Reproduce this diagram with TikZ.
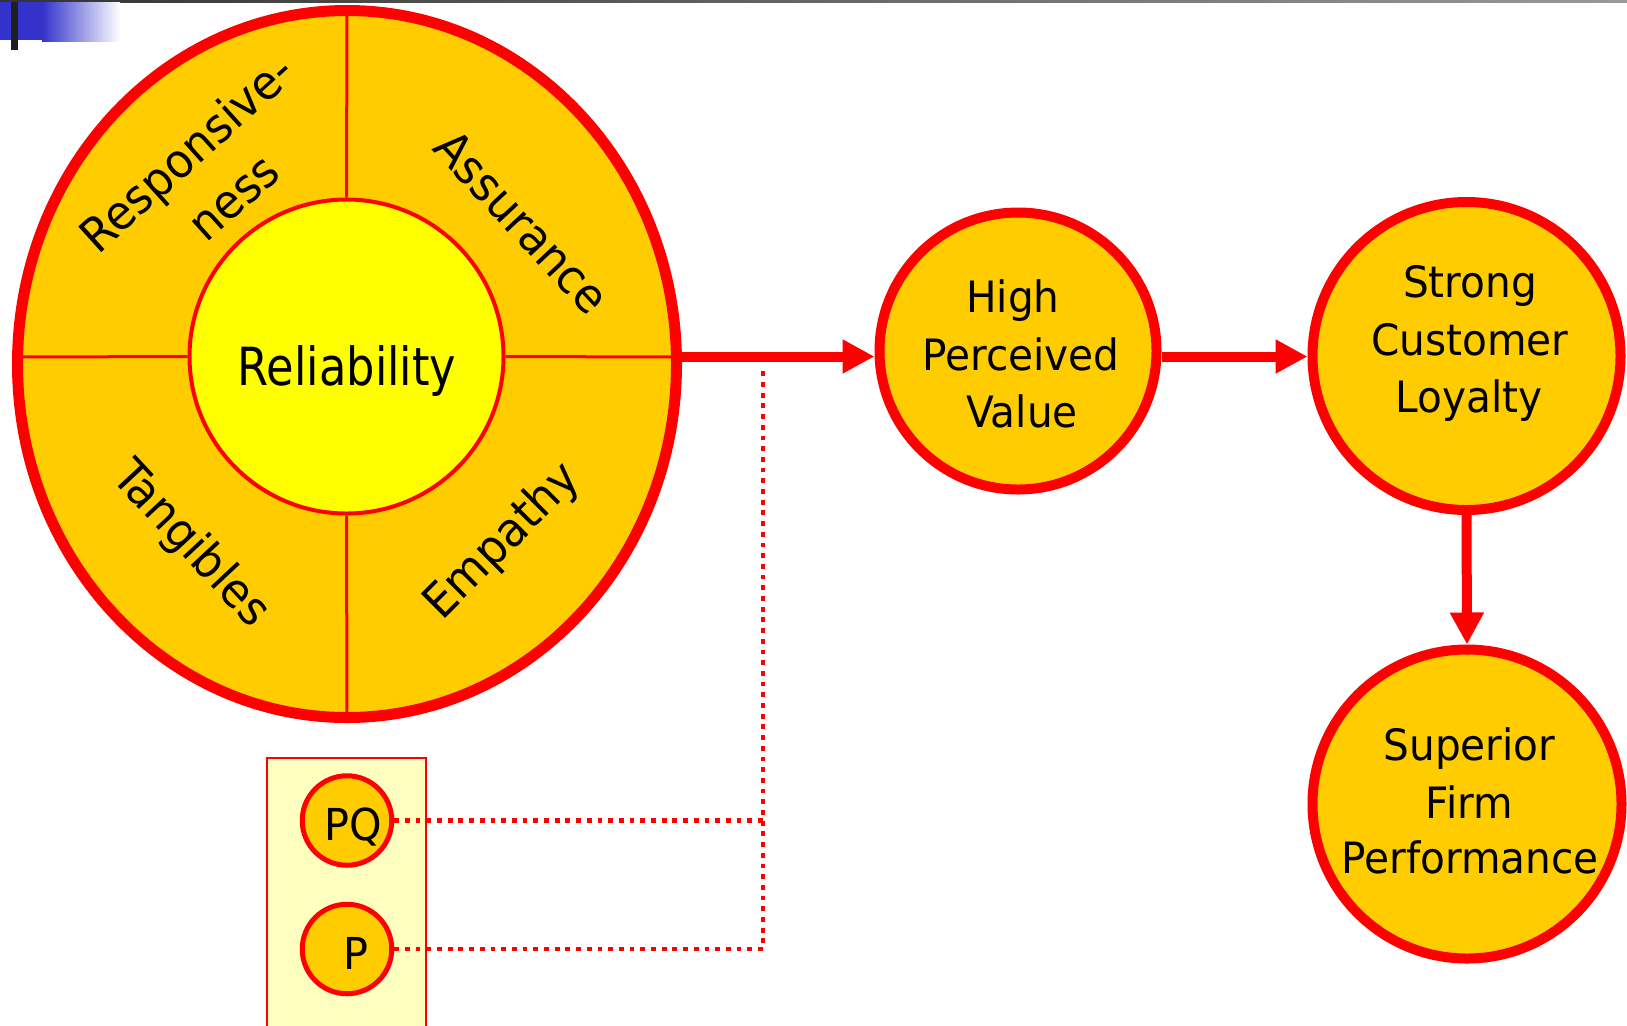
\documentclass[tikz,border=0pt]{standalone}
\usepackage{fontspec}
\setmainfont{DejaVu Sans}
\newfontfamily\tahomaish[FakeStretch=0.94]{DejaVu Sans}
\newfontfamily\relfont[FakeStretch=0.85]{DejaVu Sans}
\usetikzlibrary{arrows.meta,shapes.geometric}
\definecolor{ringfill}{HTML}{FFCC00}
\definecolor{corefill}{HTML}{FFFF00}
\definecolor{pptred}{HTML}{FF0000}
\definecolor{boxfill}{HTML}{FFFFC0}
\definecolor{barblue}{HTML}{3333CC}
\begin{document}
\begin{tikzpicture}[x=0.5pt,y=-0.5pt,
  lbl/.style={font=\tahomaish\fontsize{21.6}{26}\selectfont, anchor=base, inner sep=0pt},
  seg/.style={font=\tahomaish\fontsize{23.6}{28}\selectfont, inner sep=0pt},
  flowcirc/.style={circle, draw=pptred, fill=ringfill, line width=5pt, inner sep=0pt},
  smallcirc/.style={circle, draw=pptred, fill=ringfill, line width=2.5pt, inner sep=0pt, minimum size=44.75pt},
  flow/.style={draw=pptred, line width=5pt, -{Triangle[length=16pt,width=16pt]}},
  divider/.style={draw=pptred, line width=1.5pt},
  dots/.style={draw=pptred, line width=2.4pt, dash pattern=on 2.4pt off 2.95pt},
]
\clip (0,0) rectangle (1627,1025);
\fill[white] (0,0) rectangle (1627,1025);
% top-left decoration
\shade[left color=black!80, right color=black!40] (0,0) rectangle (1627,2);
\fill[barblue] (0,2) rectangle (42,40);
\shade[left color=barblue, right color=white] (42,2) rectangle (120,41);
\fill[black!88] (11,2) rectangle (18,50);

% big ring
\node[ellipse, draw=pptred, fill=ringfill, line width=5.5pt, inner sep=0pt,
      minimum width=329.5pt, minimum height=353.5pt] (ring) at (347,364) {};
\node[circle, draw=pptred, fill=corefill, line width=2pt, inner sep=0pt,
      minimum size=157pt] (core) at (346.5,356.5) {};
\coordinate (rt) at (347,12);
\coordinate (rb) at (347,716);
\coordinate (rl) at (18,357);
\coordinate (rr) at (676,357);
\draw[divider] (rt) -- (core.north);
\draw[divider] (core.south) -- (rb);
\draw[divider] (rl) -- (core.west);
\draw[divider] (core.east) -- (rr);

\node[font=\relfont\fontsize{26.3}{30}\selectfont, anchor=base, inner sep=0pt] (reltext) at (347,385) {Reliability};
\node[seg, rotate=42] (resp1) at (189,156) {Responsive-};
\node[seg, rotate=42] (resp2) at (236,200) {ness};
\node[seg, rotate=-47] (assur) at (522,222) {Assurance};
\node[seg, rotate=-47] (tang) at (190,545) {Tangibles};
\node[seg, rotate=45] (emp) at (503,542) {Empathy};

% flow circles
\node[flowcirc, minimum size=138.5pt] (hpv) at (1018,351) {};
\node[flowcirc, minimum size=154pt] (scl) at (1466.5,356) {};
\node[flowcirc, minimum size=154.5pt] (sfp) at (1467,804) {};

\node[lbl] (hpv1) at (1013,312) {High};
\node[lbl] (hpv2) at (1021,370) {Perceived};
\node[lbl] (hpv3) at (1022,427) {Value};
\node[lbl] (scl1) at (1470,297) {Strong};
\node[lbl] (scl2) at (1470,355) {Customer};
\node[lbl] (scl3) at (1469,412) {Loyalty};
\node[lbl] (sfp1) at (1469.5,760) {Superior};
\node[lbl] (sfp2) at (1469.5,818) {Firm};
\node[lbl] (sfp3) at (1470,873) {Performance};

\draw[flow] (ring.east |- core.center) -- (hpv.west |- core.center);
\draw[flow] (hpv.east |- core.center) -- (scl.west |- core.center);
\draw[flow] (scl.south) -- (sfp.north);

% PQ / P box
\node[draw=pptred, fill=boxfill, line width=1pt, inner sep=0pt,
      minimum width=79.5pt, minimum height=145pt] (box) at (346.5,903) {};
\node[smallcirc] (pq) at (347,820.5) {};
\node[smallcirc] (p) at (347,949) {};
\node[font=\tahomaish\fontsize{22}{26}\selectfont, anchor=base, inner sep=0pt] (pqtext) at (353,840) {PQ};
\node[font=\tahomaish\fontsize{22}{26}\selectfont, anchor=base, inner sep=0pt] (ptext) at (355.5,969) {P};

\coordinate (j0) at (763,367);
\coordinate (j1) at (763,820.5);
\coordinate (j2) at (763,949);
\draw[dots] (pq.east) -- (j1);
\draw[dots] (p.east) -- (j2) -- (j0);
\end{tikzpicture}
\end{document}
